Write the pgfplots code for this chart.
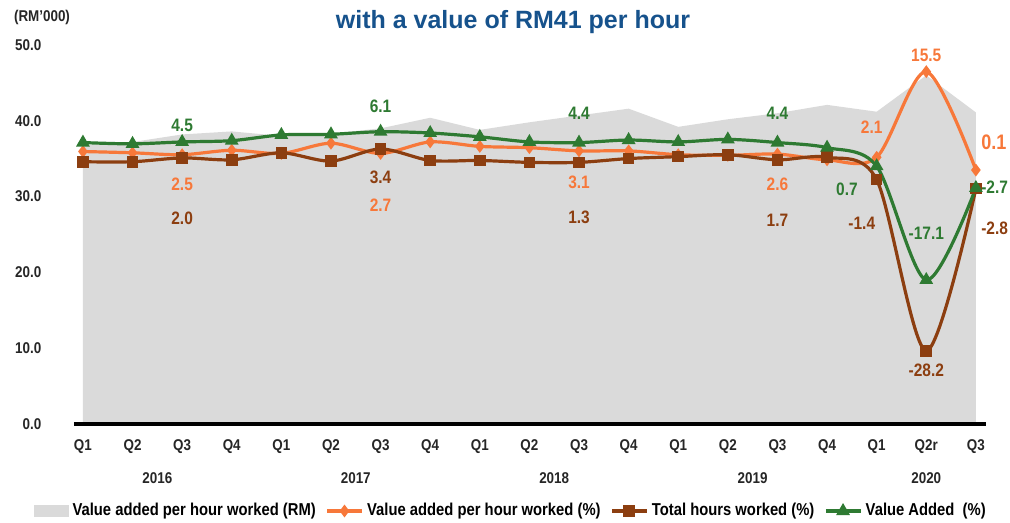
\documentclass[border=0pt]{standalone}
\usepackage{fontspec}
\setmainfont{Liberation Sans}[FakeStretch=0.86]
\newfontfamily\titlefont{Liberation Sans}
\usepackage{pgfplots}
\pgfplotsset{compat=1.18}

\definecolor{vaorange}{RGB}{247,120,58}
\definecolor{hrbrown}{RGB}{140,62,16}
\definecolor{vagreen}{RGB}{46,122,50}
\definecolor{areagray}{RGB}{218,218,218}
\definecolor{titleblue}{RGB}{22,82,140}

\newcommand{\lbl}{\fontsize{9}{10}\selectfont\bfseries}
\newcommand{\lblbig}{\fontsize{10.5}{12}\selectfont\bfseries}
\newcommand{\tck}{\fontsize{7.8}{9}\selectfont\bfseries}

\begin{document}
\begin{tikzpicture}
% left axis: value added per hour worked (RM)
\begin{axis}[
    at={(0,0)}, anchor=south west,
    scale only axis, width=455.9pt, height=189.5pt,
    xmin=-0.18, xmax=18.2, ymin=0, ymax=50,
    axis x line=bottom, axis y line=left,
    x axis line style={line width=1.6pt,-},
    y axis line style={draw=none},
    axis on top,
    major tick length=0pt,
    xtick={0,...,18},
    xticklabels={Q1,Q2,Q3,Q4,Q1,Q2,Q3,Q4,Q1,Q2,Q3,Q4,Q1,Q2,Q3,Q4,Q1,Q2r,Q3},
    ytick={0,10,...,50},
    yticklabels={0.0,10.0,20.0,30.0,40.0,50.0},
    ticklabel style={font=\tck, text=black!85},
    xticklabel style={yshift=-4.5pt},
    yticklabel style={xshift=-12.8pt},
    clip=false,
]
\addplot[fill=areagray, draw=none] coordinates {
    (0,36.8)(1,37.2)(2,38.2)(3,38.6)(4,38.0)(5,38.3)(6,39.0)(7,40.4)
    (8,38.8)(9,39.8)(10,40.7)(11,41.6)(12,39.2)(13,40.2)(14,41.0)(15,42.1)
    (16,41.2)(17,46.0)(18,41.1)
} \closedcycle;
\node[font=\tck, text=black!85] at (axis cs:1.5,0) [yshift=-27pt] {2016};
\node[font=\tck, text=black!85] at (axis cs:5.5,0) [yshift=-27pt] {2017};
\node[font=\tck, text=black!85] at (axis cs:9.5,0) [yshift=-27pt] {2018};
\node[font=\tck, text=black!85] at (axis cs:13.5,0) [yshift=-27pt] {2019};
\node[font=\tck, text=black!85] at (axis cs:17,0) [yshift=-27pt] {2020};
\end{axis}

% right (hidden) axis: growth rates in per cent
\begin{axis}[
    at={(0,0)}, anchor=south west,
    scale only axis, width=455.9pt, height=189.5pt,
    xmin=-0.18, xmax=18.2, ymin=-39.64, ymax=19.67,
    hide axis, clip=false,
    legend style={at={(0.48,-0.2296)}, anchor=center, draw=none, fill=none,
        legend columns=4, font=\fontsize{8.6}{10}\selectfont\bfseries,
        /tikz/every even column/.append style={column sep=3pt}},
    legend cell align=left,
]
\addlegendimage{area legend, fill=areagray, draw=areagray}
\addlegendentry{Value added per hour worked (RM)}

\addplot[vaorange, line width=1.6pt, smooth, tension=0.5,
    mark=diamond*, mark size=1.9pt] coordinates {
    (0,3.0)(1,2.8)(2,2.5)(3,3.2)(4,2.7)(5,4.3)(6,2.7)(7,4.5)
    (8,3.8)(9,3.6)(10,3.1)(11,3.1)(12,2.5)(13,2.4)(14,2.6)(15,1.7)
    (16,2.1)(17,15.5)(18,0.1)
};
\addlegendentry{Value added per hour worked (\%)}

\addplot[hrbrown, line width=1.6pt, smooth, tension=0.5,
    mark=square*, mark size=2.1pt] coordinates {
    (0,1.4)(1,1.4)(2,2.0)(3,1.7)(4,2.8)(5,1.5)(6,3.4)(7,1.6)
    (8,1.6)(9,1.3)(10,1.3)(11,1.9)(12,2.2)(13,2.5)(14,1.7)(15,2.1)
    (16,-1.4)(17,-28.2)(18,-2.8)
};
\addlegendentry{Total hours worked (\%)}

\addplot[vagreen, line width=1.6pt, smooth, tension=0.5,
    mark=triangle*, mark size=2.4pt] coordinates {
    (0,4.4)(1,4.2)(2,4.5)(3,4.7)(4,5.6)(5,5.7)(6,6.1)(7,5.9)
    (8,5.3)(9,4.5)(10,4.4)(11,4.8)(12,4.5)(13,4.9)(14,4.4)(15,3.6)
    (16,0.7)(17,-17.1)(18,-2.7)
};
\addlegendentry{Value Added\ \ (\%)}

% data labels
\node[font=\lbl, text=vagreen] at (axis cs:2,7.1) {4.5};
\node[font=\lbl, text=vagreen] at (axis cs:6,10.0) {6.1};
\node[font=\lbl, text=vagreen] at (axis cs:10,9.0) {4.4};
\node[font=\lbl, text=vagreen] at (axis cs:14,9.0) {4.4};
\node[font=\lbl, text=vagreen] at (axis cs:15.4,-2.9) {0.7};
\node[font=\lbl, text=vagreen] at (axis cs:17,-9.75) {-17.1};
\node[font=\lbl, text=vagreen, anchor=west, inner sep=0pt] at (axis cs:18.1,-2.6) {-2.7};

\node[font=\lbl, text=vaorange] at (axis cs:2,-2.2) {2.5};
\node[font=\lbl, text=vaorange] at (axis cs:6,-5.4) {2.7};
\node[font=\lbl, text=vaorange] at (axis cs:10,-1.8) {3.1};
\node[font=\lbl, text=vaorange] at (axis cs:14,-2.2) {2.6};
\node[font=\lbl, text=vaorange] at (axis cs:15.9,6.8) {2.1};
\node[font=\lbl, text=vaorange] at (axis cs:17,18.1) {15.5};
\node[font=\lblbig, text=vaorange, anchor=west, inner sep=0pt] at (axis cs:18.1,4.5) {0.1};

\node[font=\lbl, text=hrbrown] at (axis cs:2,-7.4) {2.0};
\node[font=\lbl, text=hrbrown] at (axis cs:6,-1.0) {3.4};
\node[font=\lbl, text=hrbrown] at (axis cs:10,-7.3) {1.3};
\node[font=\lbl, text=hrbrown] at (axis cs:14,-7.7) {1.7};
\node[font=\lbl, text=hrbrown] at (axis cs:15.7,-8.2) {-1.4};
\node[font=\lbl, text=hrbrown] at (axis cs:17,-31.2) {-28.2};
\node[font=\lbl, text=hrbrown, anchor=west, inner sep=0pt] at (axis cs:18.1,-9.0) {-2.8};
\end{axis}

\node[font=\tck, text=black!85] at (-16pt,203.5pt) {(RM'000)};
\node[font=\titlefont\fontsize{12.5}{14}\selectfont\bfseries, text=titleblue]
    at (219.5pt,201pt) {with a value of RM41 per hour};

\pgfresetboundingbox
\path[use as bounding box] (-37pt,-49.5pt) rectangle (468pt,212pt);
\end{tikzpicture}
\end{document}
